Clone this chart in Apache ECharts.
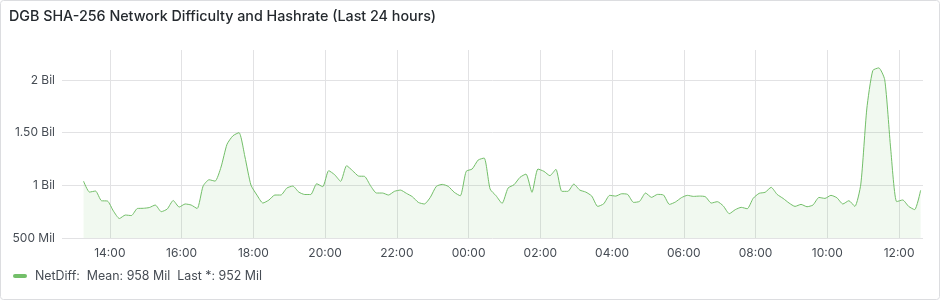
<!DOCTYPE html>
<html>
<head>
<meta charset="utf-8">
<script src="https://cdn.jsdelivr.net/npm/echarts@6/dist/echarts.min.js"></script>
<style>
html,body{margin:0;padding:0;background:#fff;}
#c{width:940px;height:300px;}
</style>
</head>
<body>
<div id="c"></div>
<script>
// Title and series
const chartTitle = "DGB SHA-256 Network Difficulty and Hashrate (Last 24 hours)";
const seriesName = "NetDiff";
const legendStats = "Mean: 958 Mil  Last *: 952 Mil";
// Time range (last 24 hours) and first sample; samples every 10 minutes
const rangeStart = [2024, 0, 1, 12, 40];
const rangeEnd = [2024, 0, 2, 12, 40];
const firstSample = [2024, 0, 1, 13, 16];
const sampleMinutes = 10;
// NetDiff values in millions
const netDiff = [
  1040, 936, 946, 854, 851, 756, 685, 718, 713, 780,
  782, 789, 813, 750, 775, 856, 794, 823, 813, 780,
  993, 1053, 1040, 1174, 1390, 1471, 1500, 1269, 1003, 908,
  832, 860, 908, 908, 974, 993, 936, 913, 913, 1015,
  987, 1139, 1101, 1038, 1186, 1139, 1088, 1085, 996, 927,
  927, 908, 943, 955, 924, 892, 838, 823, 886, 990,
  1009, 990, 934, 901, 1133, 1155, 1240, 1259, 965, 901,
  829, 974, 1006, 1076, 1107, 934, 1155, 1133, 1092, 1152,
  943, 943, 1012, 955, 936, 898, 800, 825, 905, 898,
  920, 914, 838, 848, 927, 886, 914, 908, 819, 842,
  883, 905, 895, 898, 892, 832, 845, 804, 731, 769,
  791, 778, 877, 924, 934, 981, 914, 876, 832, 800,
  819, 797, 813, 885, 876, 905, 882, 823, 854, 800,
  1012, 1725, 2090, 2115, 2002, 1345, 845, 861, 800, 769,
  952
];
// Y tick labels (values in millions)
const yTickValues = [500, 1000, 1500, 2000];
const yTickLabels = ["500 Mil", "1 Bil", "1.50 Bil", "2 Bil"];
const yMin = 500, yMax = 2285, yStep = 500;

function toTime(a){ return new Date(a[0], a[1], a[2], a[3], a[4]).getTime(); }
const t0 = toTime(firstSample);
const seriesData = netDiff.map((v, i) => [t0 + i * sampleMinutes * 60000, v]);

const chart = echarts.init(document.getElementById('c'), null, {renderer: 'canvas'});
const FONT = 'Inter, "Noto Sans", sans-serif';
const GREEN = '#73bf69';
chart.setOption({
  animation: false,
  backgroundColor: '#ffffff',
  title: {
    text: chartTitle,
    left: 9, top: 10, padding: 0,
    textStyle: {fontFamily: FONT, fontSize: 14.3, fontWeight: 500, color: '#24292e'}
  },
  graphic: [{
    type: 'rect', silent: true,
    shape: {x: 0.5, y: 0.5, width: 939, height: 299, r: 3},
    style: {fill: 'none', stroke: '#dcdde0', lineWidth: 1}
  }, {
    type: 'rect', silent: true,
    shape: {x: 13, y: 274, width: 14, height: 4, r: 2},
    style: {fill: GREEN}
  }, {
    type: 'text', silent: true, x: 35, y: 276,
    style: {text: seriesName + ':  ' + legendStats, font: '12.4px ' + FONT, fill: '#464c54', verticalAlign: 'middle'}
  }],
  grid: {left: 62, right: 17, top: 50, bottom: 62, containLabel: false},
  xAxis: {
    type: 'time',
    min: toTime(rangeStart), max: toTime(rangeEnd),
    minInterval: 2.5 * 3600 * 1000, maxInterval: 2.5 * 3600 * 1000,
    axisLine: {show: false}, axisTick: {show: false},
    axisLabel: {
      formatter: '{HH}:{mm}', fontFamily: FONT, fontSize: 12, color: '#464c54',
      margin: 9, showMinLabel: false, showMaxLabel: false, hideOverlap: false
    },
    splitLine: {show: true, showMinLine: false, showMaxLine: false, lineStyle: {color: '#e2e2e4', width: 1}}
  },
  yAxis: {
    type: 'value', min: yMin, max: yMax, interval: yStep,
    axisLine: {show: false}, axisTick: {show: false},
    axisLabel: {
      showMaxLabel: false,
      formatter: v => { const k = yTickValues.indexOf(v); return k >= 0 ? yTickLabels[k] : ''; },
      fontFamily: FONT, fontSize: 12, color: '#464c54', margin: 7
    },
    splitLine: {show: true, showMaxLine: false, lineStyle: {color: '#e2e2e4', width: 1}}
  },
  series: [{
    name: seriesName, type: 'line', data: seriesData,
    showSymbol: false, smooth: 0.2,
    lineStyle: {color: GREEN, width: 1},
    itemStyle: {color: GREEN},
    areaStyle: {color: 'rgba(115,191,105,0.14)', origin: 'start'}
  }]
});
</script>
</body>
</html>
